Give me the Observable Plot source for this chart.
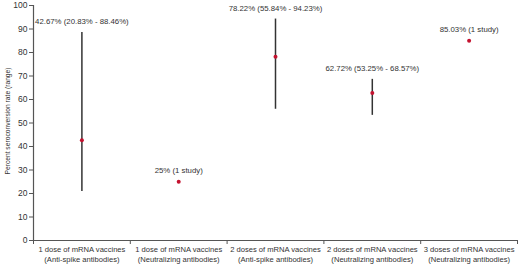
<!DOCTYPE html>
<html><head><meta charset="utf-8">
<script src="https://cdn.jsdelivr.net/npm/d3@7"></script>
<script src="https://cdn.jsdelivr.net/npm/@observablehq/plot@0.6"></script>
<style>
body{margin:0;background:#fff;}
svg{font-family:"Liberation Sans",Arial,Helvetica,sans-serif;}
</style>
</head><body>
<div id="chart"></div>
<script>
const categories = [
  "1 dose of mRNA vaccines\n(Anti-spike antibodies)",
  "1 dose of mRNA vaccines\n(Neutralizing antibodies)",
  "2 doses of mRNA vaccines\n(Anti-spike antibodies)",
  "2 doses of mRNA vaccines\n(Neutralizing antibodies)",
  "3 doses of mRNA vaccines\n(Neutralizing antibodies)"
];
const values = [42.67, 25, 78.22, 62.72, 85.03];
const lows   = [20.83, null, 55.84, 53.25, null];
const highs  = [88.46, null, 94.23, 68.57, null];
const labels = [
  "42.67% (20.83% - 88.46%)",
  "25% (1 study)",
  "78.22% (55.84% - 94.23%)",
  "62.72% (53.25% - 68.57%)",
  "85.03% (1 study)"
];
const yTicks = d3.range(0, 101, 10);

const data = categories.map((c, i) => ({
  pos: i + 0.5, cat: c, value: values[i], low: lows[i], high: highs[i],
  label: labels[i], top: highs[i] ?? values[i]
}));
const ranges = data.filter(d => d.low != null);
const boundaries = d3.range(0, categories.length + 1);

const axisColor = "#555";
const textColor = "#333";
const chart = Plot.plot({
  width: 520,
  height: 265,
  marginLeft: 33,
  marginRight: 3,
  marginTop: 5,
  marginBottom: 25,
  style: {fontSize: "8px", color: textColor, background: "#fff"},
  x: {domain: [0, categories.length], axis: null},
  y: {domain: [0, 100], axis: null},
  marks: [
    Plot.axisY({ticks: yTicks, tickSize: 4, tickPadding: 2, stroke: axisColor, fontSize: 8.5, label: null}),
    Plot.axisX({ticks: boundaries, tickSize: 4, tickFormat: () => "", stroke: axisColor, label: null}),
    Plot.ruleX([0], {stroke: axisColor, strokeWidth: 1.2}),
    Plot.ruleY([0], {stroke: axisColor, strokeWidth: 1.2}),
    Plot.text(["Percent seroconversion rate (range)"], {
      frameAnchor: "left", textAnchor: "middle", dx: -26, dy: -2, rotate: -90, fontSize: 6.7,
      fill: textColor
    }),
    Plot.ruleX(ranges, {x: "pos", y1: "low", y2: "high", stroke: "#333", strokeWidth: 1.5}),
    Plot.dot(data, {x: "pos", y: "value", r: 2, fill: "#c4122f", stroke: null}),
    Plot.text(data, {x: "pos", y: "top", text: "label", dy: -11, fontSize: 7.8, fill: textColor}),
    Plot.text(data, {x: "pos", y: () => 0, text: "cat", dy: 5, lineAnchor: "top", lineHeight: 1.25, fontSize: 7.6, fill: textColor})
  ]
});
document.getElementById("chart").appendChild(chart);
</script>
</body></html>
